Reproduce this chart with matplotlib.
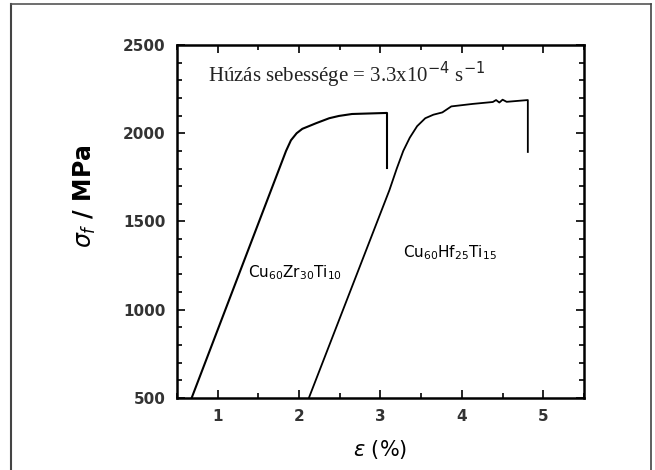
import matplotlib
matplotlib.use("Agg")
import matplotlib.pyplot as plt
from matplotlib.lines import Line2D
from matplotlib.ticker import MultipleLocator

# Cu60Zr30Ti10 curve
zr_strain = [0.68, 1.84, 1.90, 1.97, 2.04, 2.12, 2.21, 2.37, 2.49, 2.65, 3.08, 3.08]
zr_stress = [500, 1900, 1960, 2000, 2025, 2040, 2057, 2085, 2098, 2109, 2115, 1803]

# Cu60Hf25Ti15 curve
hf_strain = [2.12, 3.11, 3.20, 3.28, 3.36, 3.45, 3.55, 3.65, 3.76, 3.87, 4.13, 4.38,
             4.42, 4.46, 4.50, 4.55, 4.81, 4.81]
hf_stress = [500, 1678, 1800, 1900, 1975, 2040, 2085, 2105, 2118, 2152, 2166, 2177,
             2188, 2174, 2190, 2178, 2188, 1894]

x_ticks = [1, 2, 3, 4, 5]
y_ticks = [500, 1000, 1500, 2000, 2500]

fig = plt.figure(figsize=(6.55, 4.7), dpi=100)
ax = fig.add_axes([0.2702, 0.1532, 0.6214, 0.7511])

ax.plot(zr_strain, zr_stress, color="black", lw=1.5)
ax.plot(hf_strain, hf_stress, color="black", lw=1.3)

ax.set_xlim(0.5, 5.5)
ax.set_ylim(500, 2500)
ax.set_xticks(x_ticks)
ax.set_yticks(y_ticks)
ax.xaxis.set_minor_locator(MultipleLocator(0.5))
ax.yaxis.set_minor_locator(MultipleLocator(100))
ax.tick_params(which="both", direction="in", top=True, right=True, width=1.2)
ax.tick_params(which="major", length=6, labelsize=11, pad=8)
ax.tick_params(which="minor", length=3.5)
for lab in ax.get_xticklabels() + ax.get_yticklabels():
    lab.set_fontweight("bold")
    lab.set_color("#333333")
for s in ax.spines.values():
    s.set_linewidth(1.8)

ax.text(0.88, 2330, "Húzás sebessége = 3.3x10$^{-4}$ s$^{-1}$",
        fontsize=15, family="Liberation Serif", va="center", ha="left", color="#222222")
ax.text(1.37, 1208, "Cu$_{60}$Zr$_{30}$Ti$_{10}$", fontsize=11, va="center", ha="left")
ax.text(3.28, 1322, "Cu$_{60}$Hf$_{25}$Ti$_{15}$", fontsize=11, va="center", ha="left")

ax.set_xlabel(r"$\varepsilon$ (%)", fontsize=15, labelpad=10)
ax.set_ylabel(r"$\sigma_f$ / MPa", fontsize=17, fontweight="bold")
ax.yaxis.set_label_coords(-0.194, 0.572)

# outer frame
W, H = 655, 470
fig.add_artist(Line2D([11 / W, 11 / W], [0, 1 - 4 / H], transform=fig.transFigure, color="#444444", lw=1.5))
fig.add_artist(Line2D([11 / W, 651 / W], [1 - 4 / H, 1 - 4 / H], transform=fig.transFigure, color="#555555", lw=1.2))
fig.add_artist(Line2D([651 / W, 651 / W], [0, 1 - 4 / H], transform=fig.transFigure, color="#444444", lw=1.2))

fig.savefig("out.png", dpi=100)
